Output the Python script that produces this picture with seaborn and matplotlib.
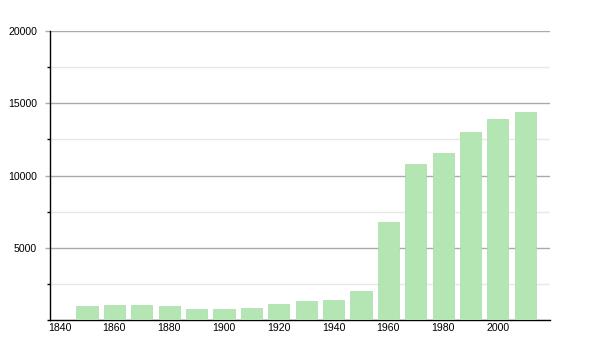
import matplotlib
matplotlib.use("Agg")
import matplotlib.pyplot as plt
import seaborn as sns
import pandas as pd
from matplotlib.ticker import MultipleLocator

years = [1850, 1860, 1870, 1880, 1890, 1900, 1910, 1920, 1930, 1940,
         1950, 1960, 1970, 1980, 1990, 2000, 2010]
population = [970, 1060, 1040, 970, 740, 740, 830, 1130, 1315, 1405,
              2010, 6780, 10820, 11560, 13010, 13910, 14390]
x_ticks = [1840, 1860, 1880, 1900, 1920, 1940, 1960, 1980, 2000]
y_ticks = [5000, 10000, 15000, 20000]

df = pd.DataFrame({"year": years, "population": population})

sns.set_style("white")
plt.rcParams["font.family"] = ["Liberation Sans", "DejaVu Sans"]

fig = plt.figure(figsize=(6, 3.5), dpi=100)
ax = fig.add_axes([50 / 600, 1 - 320 / 350, 500 / 600, 289 / 350])

sns.barplot(data=df, x="year", y="population", native_scale=True,
            color="#b3e6b3", saturation=1, width=0.77, ax=ax,
            edgecolor="#a8dca8", linewidth=0.5, zorder=3)

ax.set_xlim(1836.5, 2019)
ax.set_ylim(0, 20000)
ax.set_xticks(x_ticks)
ax.set_xticklabels([str(t) for t in x_ticks])
ax.set_yticks(y_ticks)
ax.set_yticklabels([str(t) for t in y_ticks])
ax.yaxis.set_minor_locator(MultipleLocator(2500))

ax.grid(axis="y", which="major", color="#aaaaaa", linewidth=1.0, zorder=0)
ax.grid(axis="y", which="minor", color="#e8e8e8", linewidth=1.0, zorder=0)
ax.set_axisbelow(True)

for s in ["top", "right"]:
    ax.spines[s].set_visible(False)
for s in ["left", "bottom"]:
    ax.spines[s].set_color("black")
    ax.spines[s].set_linewidth(1.0)

ax.tick_params(axis="y", which="major", length=3.6, width=1, color="#aaaaaa",
               labelsize=7.6, pad=5.8, left=True, labelcolor="black")
ax.tick_params(axis="y", which="minor", length=2.2, width=1, color="black", left=True)
ax.tick_params(axis="x", which="major", length=0, labelsize=7.6, pad=2,
               labelcolor="black")

ax.set_xlabel("")
ax.set_ylabel("")

fig.savefig("out.png", dpi=100)
